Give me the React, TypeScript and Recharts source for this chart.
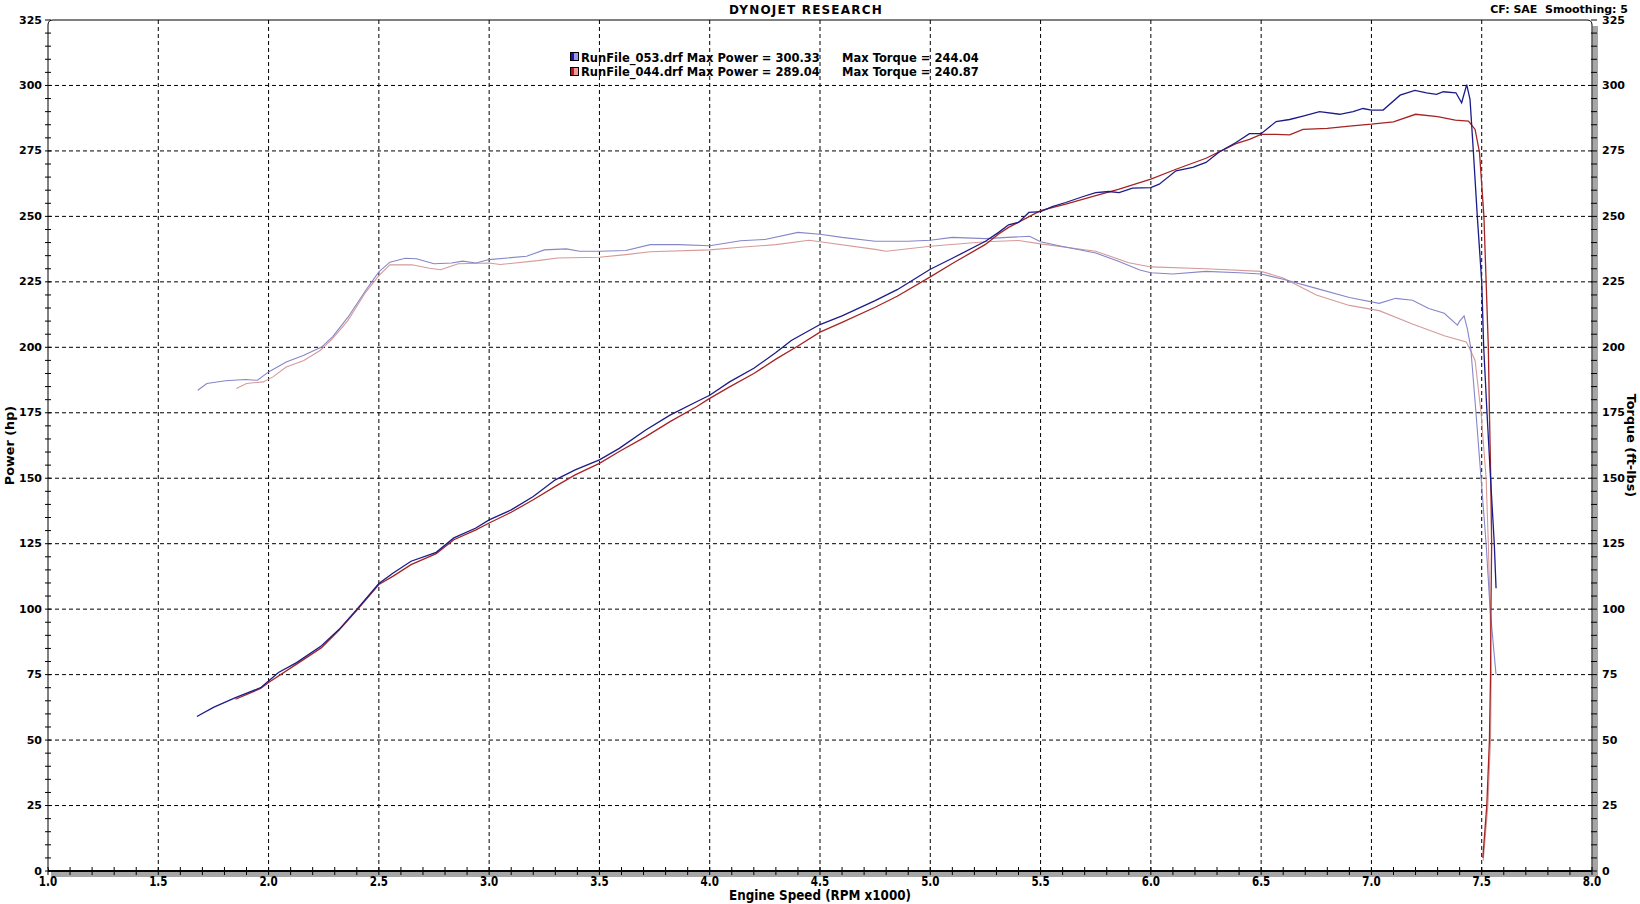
import React from 'react';
import { LineChart, Line, XAxis, YAxis, ReferenceLine, ReferenceArea, Legend, Label } from 'recharts';

// ---- Run 053 (blue) ----
const rpm053Power = [1.675, 1.75, 1.85, 1.964, 2.0, 2.045, 2.127, 2.24, 2.32, 2.4, 2.5, 2.565, 2.646, 2.76, 2.84, 2.94, 3.0, 3.1, 3.2, 3.3, 3.39, 3.5, 3.59, 3.71, 3.82, 3.94, 4.0, 4.09, 4.2, 4.3, 4.37, 4.5, 4.6, 4.75, 4.85, 5.0, 5.1, 5.25, 5.31, 5.355, 5.4, 5.447, 5.5, 5.553, 5.614, 5.69, 5.75, 5.81, 5.856, 5.917, 6.0, 6.038, 6.114, 6.19, 6.25, 6.31, 6.386, 6.447, 6.5, 6.568, 6.629, 6.69, 6.765, 6.856, 6.917, 6.962, 7.0, 7.053, 7.13, 7.197, 7.25, 7.295, 7.326, 7.383, 7.409, 7.432, 7.447, 7.462, 7.48, 7.5, 7.509, 7.524, 7.54, 7.557, 7.565];
const hp053 = [59, 62.5, 66.2, 70, 72.6, 75.8, 79.6, 86, 92.3, 99.9, 109.8, 113.8, 118.3, 121.7, 127.2, 131, 134.1, 137.9, 143, 149.4, 153.2, 157, 161.4, 168.4, 174.1, 179.2, 181.7, 186.8, 192, 198, 202.6, 208.7, 212, 217.8, 222, 229.8, 234, 240.5, 243.9, 246.8, 247.7, 251.5, 251.8, 253.7, 255.3, 257.5, 259.1, 259.5, 259.1, 260.8, 261, 262.3, 267.4, 268.7, 270.6, 274.6, 278.2, 281.6, 281.6, 286.2, 287, 288.3, 290, 289, 290, 291.2, 290.6, 290.6, 296.3, 298.1, 297.2, 296.6, 297.6, 297.2, 293.4, 300.3, 294.7, 275, 250, 225, 200, 175, 150, 125, 108];

const rpm053Torque = [1.679, 1.72, 1.805, 1.895, 1.95, 2.0, 2.08, 2.16, 2.24, 2.29, 2.36, 2.44, 2.5, 2.55, 2.62, 2.67, 2.75, 2.83, 2.88, 2.94, 3.0, 3.17, 3.25, 3.35, 3.41, 3.5, 3.62, 3.73, 3.86, 4.0, 4.14, 4.25, 4.4, 4.5, 4.6, 4.75, 4.9, 5.0, 5.1, 5.25, 5.35, 5.45, 5.5, 5.6, 5.75, 5.85, 5.95, 6.0, 6.1, 6.25, 6.4, 6.5, 6.6, 6.75, 6.9, 7.035, 7.11, 7.186, 7.26, 7.33, 7.39, 7.4, 7.42, 7.435, 7.45, 7.474, 7.497, 7.52, 7.538, 7.565];
const tq053 = [183.6, 186.2, 187.2, 187.7, 187.4, 190.6, 194.4, 197, 200.1, 204, 211.5, 221.7, 228.8, 232.5, 234, 233.8, 231.9, 232.2, 232.9, 232.2, 233.5, 234.8, 237.2, 237.6, 236.7, 236.7, 237, 239.2, 239.2, 238.8, 240.7, 241.2, 243.9, 243.2, 242, 240.5, 240.5, 240.9, 242, 241.5, 242, 242.4, 240.3, 238.5, 236, 233, 229.5, 228.5, 228, 229, 228.5, 228, 226, 222.5, 219, 216.8, 218.7, 218, 214.8, 213, 208.5, 210, 212, 207, 200, 175, 150, 125, 100, 75];

// ---- Run 044 (red) ----
const rpm044Power = [1.85, 1.964, 2.0, 2.127, 2.24, 2.32, 2.4, 2.5, 2.565, 2.646, 2.76, 2.84, 2.94, 3.0, 3.1, 3.2, 3.3, 3.39, 3.5, 3.59, 3.71, 3.82, 3.94, 4.0, 4.09, 4.2, 4.3, 4.4, 4.5, 4.6, 4.75, 4.85, 5.0, 5.1, 5.25, 5.31, 5.355, 5.5, 5.614, 5.75, 5.856, 6.0, 6.114, 6.25, 6.386, 6.447, 6.5, 6.568, 6.629, 6.69, 6.8, 6.9, 7.0, 7.1, 7.2, 7.3, 7.38, 7.44, 7.47, 7.49, 7.51, 7.52, 7.53, 7.535, 7.541, 7.545, 7.542, 7.54, 7.535, 7.523, 7.505];
const hp044 = [65.6, 69.7, 72, 79, 85.3, 92, 99.6, 109.4, 112.6, 117, 121.2, 126.5, 130.3, 132.9, 137, 141.8, 146.9, 151.3, 155.7, 160.2, 165.9, 171.6, 177.3, 180.5, 184.9, 190, 195.5, 200.5, 205.8, 209.5, 215.3, 219.5, 226.9, 232, 239.3, 243.3, 245.8, 252.2, 254.7, 257.9, 260.4, 264.2, 268, 272.2, 277.8, 279.4, 281.3, 281.3, 281.1, 283.2, 283.6, 284.5, 285.2, 286.1, 289, 288.1, 286.8, 286.4, 283.2, 274.4, 250, 225, 200, 175, 150, 125, 100, 75, 50, 25, 5];

const rpm044Torque = [1.854, 1.9, 1.976, 2.02, 2.08, 2.16, 2.235, 2.29, 2.36, 2.44, 2.5, 2.55, 2.65, 2.73, 2.78, 2.86, 3.0, 3.05, 3.22, 3.31, 3.5, 3.62, 3.73, 4.0, 4.14, 4.3, 4.45, 4.5, 4.75, 4.8, 5.0, 5.25, 5.4, 5.5, 5.75, 5.9, 6.0, 6.25, 6.5, 6.6, 6.75, 6.9, 7.035, 7.186, 7.33, 7.43, 7.45, 7.47, 7.497, 7.52, 7.53, 7.538, 7.543, 7.54, 7.528, 7.507];
const tq044 = [184.3, 186.2, 186.8, 188.7, 192.5, 195, 198.9, 203.3, 210.3, 221, 227.4, 231.5, 231.5, 230.2, 229.6, 231.9, 232.2, 231.6, 233.1, 234.1, 234.4, 235.4, 236.5, 237.2, 238.2, 239.2, 240.9, 240.3, 237.4, 236.7, 238.6, 240.3, 240.8, 239.5, 236.7, 232.3, 230.7, 230, 229, 226.5, 220, 216, 214, 208.9, 204.4, 202, 198.7, 195, 175, 150, 125, 100, 75, 50, 25, 4];

// ---- Axes / grid ----
const xDomain = [1, 8];
const yDomain = [0, 325];
const xGridValues = [1.5, 2.0, 2.5, 3.0, 3.5, 4.0, 4.5, 5.0, 5.5, 6.0, 6.5, 7.0, 7.5];
const yGridValues = [25, 50, 75, 100, 125, 150, 175, 200, 225, 250, 275, 300];
const xMinorStep = 0.1;
const yMinorStep = 5;

const legendRows = [
  { file: 'RunFile_053.drf', maxPower: '300.33', maxTorque: '244.04', dark: '#1a1aa8', light: '#9a9aee' },
  { file: 'RunFile_044.drf', maxPower: '289.04', maxTorque: '240.87', dark: '#c01818', light: '#f09a9a' },
];

const COLORS = {
  hp053: '#1c1c88',
  hp044: '#a62424',
  tq053: '#8686c8',
  tq044: '#d69a9a',
};

const range = (a: number, b: number, step: number) => {
  const out: number[] = [];
  const n = Math.round((b - a) / step);
  for (let i = 0; i <= n; i++) out.push(Math.round((a + i * step) * 1000) / 1000);
  return out;
};
const xTicks = range(xDomain[0], xDomain[1], xMinorStep);
const yTicks = range(yDomain[0], yDomain[1], yMinorStep);

const pts = (xs: number[], ys: number[]) => xs.map((x, i) => ({ rpm: x, value: ys[i] }));
const data053Power = pts(rpm053Power, hp053);
const data053Torque = pts(rpm053Torque, tq053);
const data044Power = pts(rpm044Power, hp044);
const data044Torque = pts(rpm044Torque, tq044);

const BOLD = '"DejaVu Sans", Verdana, sans-serif';
const NARROW = '"DejaVu Sans Condensed", "Liberation Sans Narrow", "Arial Narrow", sans-serif';

const XTick = (props: any) => {
  const { x, y, payload } = props;
  const v = payload.value as number;
  const major = Math.round(v * 10) % 5 === 0;
  return (
    <g>
      <line x1={x} x2={x} y1={y - 4} y2={y + 4} stroke="#000" strokeWidth={1} />
      {major && (
        <text
          transform={`translate(${x} ${y + 14.5}) scale(0.82 1)`}
          x={0}
          y={0}
          textAnchor="middle"
          fontFamily={NARROW}
          fontWeight="bold"
          fontSize={14}
          fill="#000"
        >
          {v.toFixed(1)}
        </text>
      )}
    </g>
  );
};

const LeftTick = (props: any) => {
  const { x, y, payload } = props;
  const v = payload.value as number;
  const major = v % 25 === 0;
  return (
    <g>
      <line x1={x - 3} x2={x + 3} y1={y} y2={y} stroke="#000" strokeWidth={1} />
      {major && (
        <text x={x - 6} y={y} dy={3.5} textAnchor="end" fontFamily={BOLD} fontWeight="bold" fontSize={11} fill="#000">
          {v}
        </text>
      )}
    </g>
  );
};

const RightTick = (props: any) => {
  const { x, y, payload } = props;
  const v = payload.value as number;
  const major = v % 25 === 0;
  return (
    <g>
      <line x1={x - 1} x2={x + 5} y1={y} y2={y} stroke="#000" strokeWidth={1} />
      {major && (
        <text x={x + 10} y={y} dy={3.5} textAnchor="start" fontFamily={BOLD} fontWeight="bold" fontSize={11} fill="#000">
          {v}
        </text>
      )}
    </g>
  );
};

const PlotFrame = (props: any) => {
  const { x, y, width: w, height: h } = props;
  const r = 5;
  return (
    <g>
      <rect x={x + w + 0.5} y={y + 6} width={5.5} height={h} fill="#a6a6a6" />
      <rect x={x + 3} y={y + h + 1} width={w + 3} height={5} fill="#a6a6a6" />
      <path
        d={`M${x + 3},${y + h} Q${x},${y + h} ${x},${y + h - 3} L${x},${y + r} Q${x},${y} ${x + r},${y} L${x + w - r},${y} Q${x + w},${y} ${x + w},${y + r} L${x + w},${y + h}`}
        fill="none"
        stroke="#000"
        strokeWidth={1}
      />
    </g>
  );
};

const LegendContent = () => (
  <div style={{ position: 'relative', width: 420, height: 30, fontFamily: BOLD, fontWeight: 'bold', fontSize: 11.5, lineHeight: '14px', color: '#000' }}>
    {legendRows.map((r, i) => (
      <div key={r.file} style={{ position: 'absolute', left: 0, top: i * 14, height: 14, width: 420, whiteSpace: 'pre' }}>
        <div style={{ position: 'absolute', left: 0, top: 1 + i, width: 9, height: 9, border: '1px solid #000', boxSizing: 'border-box', background: `linear-gradient(to right, ${r.dark} 0%, ${r.dark} 50%, ${r.light} 50%, ${r.light} 100%)` }} />
        <span style={{ position: 'absolute', left: 11, top: 0 }}>{`${r.file} Max Power = ${r.maxPower}`}</span>
        <span style={{ position: 'absolute', left: 272, top: 0 }}>{`Max Torque = ${r.maxTorque}`}</span>
      </div>
    ))}
  </div>
);

const XTitle = (props: any) => {
  const vb = props.viewBox || {};
  return (
    <text
      x={vb.x + vb.width / 2}
      y={vb.y + 28.5}
      textAnchor="middle"
      fontFamily={NARROW}
      fontWeight="bold"
      fontSize={14}
      textLength={182}
      lengthAdjust="spacingAndGlyphs"
      fill="#000"
    >
      Engine Speed (RPM x1000)
    </text>
  );
};

const LeftTitle = (props: any) => {
  const vb = props.viewBox || {};
  const cx = vb.x + 14;
  const cy = vb.y + vb.height / 2;
  return (
    <text x={cx} y={cy} transform={`rotate(-90 ${cx} ${cy})`} textAnchor="middle" fontFamily={BOLD} fontWeight="bold" fontSize={12.8} fill="#000">
      Power (hp)
    </text>
  );
};

const RightTitle = (props: any) => {
  const vb = props.viewBox || {};
  const cx = vb.x + 35;
  const cy = vb.y + vb.height / 2;
  return (
    <text x={cx} y={cy} transform={`rotate(90 ${cx} ${cy})`} textAnchor="middle" fontFamily={BOLD} fontWeight="bold" fontSize={12.8} fill="#000">
      Torque (ft-lbs)
    </text>
  );
};

export default function App() {
  return (
    <div style={{ position: 'absolute', left: 0, top: 0, width: 1640, height: 904, background: '#fff', overflow: 'hidden' }}>
      <LineChart width={1640} height={904} margin={{ top: 20, right: 0, bottom: 0, left: 0 }}>
        <ReferenceArea yAxisId="hp" x1={xDomain[0]} x2={xDomain[1]} y1={yDomain[0]} y2={yDomain[1]} shape={PlotFrame} ifOverflow="visible" />
        {xGridValues.map((v) => (
          <ReferenceLine key={`vx${v}`} yAxisId="hp" x={v} stroke="#000" strokeWidth={1} strokeDasharray="4 3" />
        ))}
        {yGridValues.map((v) => (
          <ReferenceLine key={`hy${v}`} yAxisId="hp" y={v} stroke="#000" strokeWidth={1} strokeDasharray="4 3" />
        ))}
        <XAxis
          type="number"
          dataKey="rpm"
          domain={xDomain}
          ticks={xTicks}
          interval={0}
          height={33}
          tickSize={0}
          tickMargin={0}
          tickLine={false}
          tick={<XTick />}
          axisLine={{ stroke: '#000', strokeWidth: 2 }}
          allowDataOverflow
        >
          <Label content={<XTitle />} position="insideBottom" />
        </XAxis>
        <YAxis
          yAxisId="hp"
          orientation="left"
          type="number"
          domain={yDomain}
          ticks={yTicks}
          interval={0}
          width={48}
          tickSize={0}
          tickMargin={0}
          tickLine={false}
          tick={<LeftTick />}
          axisLine={false}
          allowDataOverflow
        >
          <Label content={<LeftTitle />} position="insideLeft" />
        </YAxis>
        <YAxis
          yAxisId="tq"
          orientation="right"
          type="number"
          domain={yDomain}
          ticks={yTicks}
          interval={0}
          width={48}
          tickSize={0}
          tickMargin={0}
          tickLine={false}
          tick={<RightTick />}
          axisLine={false}
          allowDataOverflow
        >
          <Label content={<RightTitle />} position="insideRight" />
        </YAxis>
        <Line data={data044Torque} yAxisId="tq" dataKey="value" name="Torque 044" type="linear" stroke={COLORS.tq044} strokeWidth={1.1} dot={false} isAnimationActive={false} />
        <Line data={data053Torque} yAxisId="tq" dataKey="value" name="Torque 053" type="linear" stroke={COLORS.tq053} strokeWidth={1.1} dot={false} isAnimationActive={false} />
        <Line data={data044Power} yAxisId="hp" dataKey="value" name="Power 044" type="linear" stroke={COLORS.hp044} strokeWidth={1.3} dot={false} isAnimationActive={false} />
        <Line data={data053Power} yAxisId="hp" dataKey="value" name="Power 053" type="linear" stroke={COLORS.hp053} strokeWidth={1.3} dot={false} isAnimationActive={false} />
        <Legend
          layout="horizontal"
          verticalAlign="middle"
          align="center"
          content={<LegendContent />}
          wrapperStyle={{ position: 'absolute', left: 570, top: 51, width: 420, height: 30 }}
        />
      </LineChart>
      <svg width={1640} height={904} style={{ position: 'absolute', left: 0, top: 0, pointerEvents: 'none' }}>
        <text x={806} y={13.5} textAnchor="middle" fontFamily={BOLD} fontWeight="bold" fontSize={12} letterSpacing={1.2} fill="#000">
          DYNOJET RESEARCH
        </text>
        <text x={1628} y={12.5} textAnchor="end" fontFamily={BOLD} fontWeight="bold" fontSize={11} fill="#000" style={{ whiteSpace: 'pre' }}>
          {'CF: SAE  Smoothing: 5'}
        </text>
      </svg>
    </div>
  );
}
